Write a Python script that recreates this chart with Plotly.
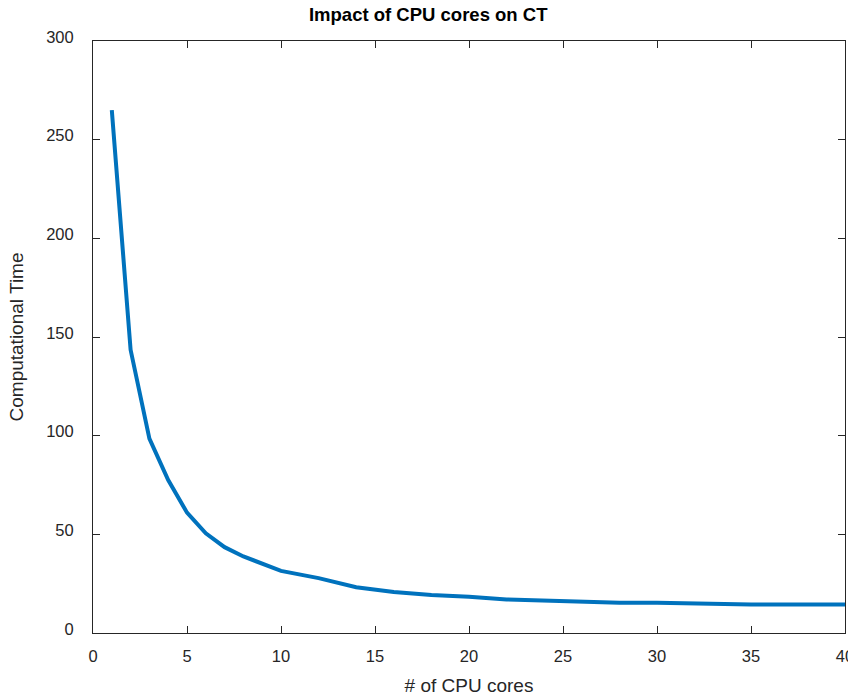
import plotly.graph_objects as go

cores = [1, 2, 3, 4, 5, 6, 7, 8, 10, 12, 14, 16, 18, 20, 22, 25, 28, 30, 35, 40]
comp_time = [265, 143.5, 98.5, 77.5, 61, 50.5, 43.5, 38.8, 31.5, 27.8, 23.2, 20.8,
             19.2, 18.4, 17.0, 16.2, 15.3, 15.3, 14.4, 14.5]
x_ticks = [0, 5, 10, 15, 20, 25, 30, 35, 40]
y_ticks = [0, 50, 100, 150, 200, 250, 300]

FONT = "Liberation Sans, Arial"
fig = go.Figure()
fig.add_trace(go.Scatter(x=cores, y=comp_time, mode="lines",
                         line=dict(color="#0072BD", width=4), showlegend=False))

axis_common = dict(
    showgrid=False, zeroline=False, showline=True, linecolor="#262626", linewidth=1,
    mirror="ticks", ticks="inside", ticklen=7, tickcolor="#262626", tickwidth=1,
    tickfont=dict(family=FONT, size=16.5, color="#262626"), automargin=False,
    ticklabeloverflow="allow",
)

fig.update_layout(
    width=848, height=696,
    margin=dict(l=93, r=3, t=41, b=63),
    paper_bgcolor="white", plot_bgcolor="white",
    title=dict(text="<b>Impact of CPU cores on CT</b>", x=0.505, xanchor="center",
               y=1 - 15 / 696, yanchor="middle", yref="container",
               font=dict(family=FONT, size=18.5, color="black")),
    xaxis=dict(range=[0, 40], tickvals=x_ticks, ticklabelstandoff=8,
               title=dict(text="# of CPU cores", standoff=14,
                          font=dict(family=FONT, size=19, color="#262626")),
               **axis_common),
    yaxis=dict(range=[0, 300], tickvals=y_ticks, ticklabelstandoff=15, ticklabelshift=-4,
               title=dict(text="Computational Time", standoff=17,
                          font=dict(family=FONT, size=19, color="#262626")),
               **axis_common),
)

fig.write_html("out.html")
